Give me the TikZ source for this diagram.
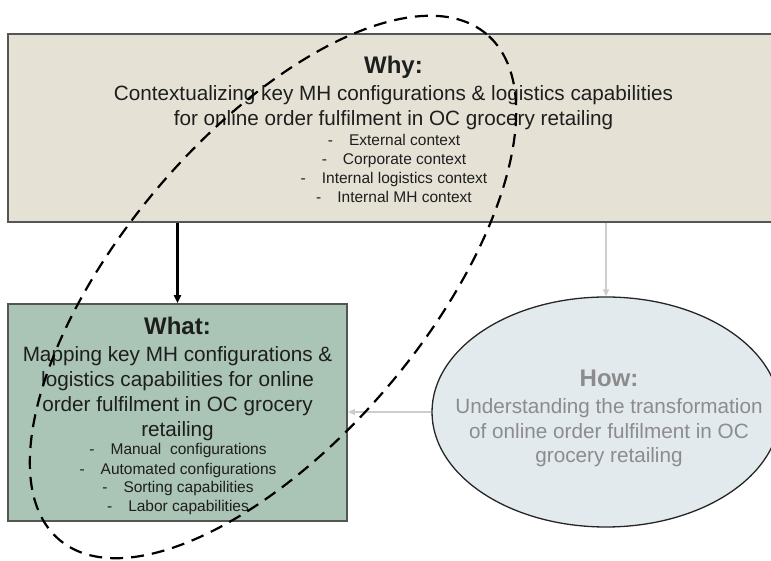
\documentclass[tikz,border=0pt]{standalone}
\usepackage{fontspec}
\setmainfont{Liberation Sans}
\usetikzlibrary{arrows.meta,shapes.geometric}
\definecolor{whyfill}{RGB}{229,226,213}
\definecolor{whatfill}{RGB}{170,196,181}
\definecolor{howfill}{RGB}{226,234,237}
\definecolor{boxline}{RGB}{85,85,85}
\definecolor{howtext}{RGB}{140,140,140}
\definecolor{lightarrow}{RGB}{205,205,205}
\definecolor{darktext}{RGB}{30,30,30}
\begin{document}
\begin{tikzpicture}[x=1pt,y=1pt,
  box/.style={draw=boxline, line width=1.8pt, inner sep=0pt},
  txt/.style={anchor=base, inner sep=0pt, font=\fontsize{20.7}{24}\selectfont, text=darktext},
  head/.style={anchor=base, inner sep=0pt, font=\bfseries\fontsize{24}{28}\selectfont, text=darktext},
  bul/.style={anchor=base, inner sep=0pt, font=\fontsize{15.5}{18}\selectfont, text=darktext},
  mainarrow/.style={-{Triangle[length=8pt,width=7pt]}, line width=2.4pt, black},
  greyarrow/.style={-{Triangle[length=7pt,width=6pt]}, line width=1.3pt, lightarrow},
  focusline/.style={draw=black, line width=2.2pt, dash pattern=on 13pt off 8pt}
]
\useasboundingbox (0,0) rectangle (771,561);
\fill[white] (0,0) rectangle (771,561);

% Why box
\node[box, fill=whyfill, minimum width=771pt, minimum height=188pt] (why) at (393.5,433) {};
\node[head] (whyh) at (393.5,487) {Why:};
\node[txt] (why1) at (393.5,460.3) {Contextualizing key MH configurations \& logistics capabilities};
\node[txt] (why2) at (393.5,435.3) {for online order fulfilment in OC grocery retailing};
\node[bul] (whyb1) at (394,415.3) {-\hspace{16pt}External context};
\node[bul] (whyb2) at (394,396.3) {-\hspace{16pt}Corporate context};
\node[bul] (whyb3) at (394,377.7) {-\hspace{16pt}Internal logistics context};
\node[bul] (whyb4) at (394,358.7) {-\hspace{16pt}Internal MH context};

% What box
\node[box, fill=whatfill, minimum width=339pt, minimum height=217pt] (what) at (177.5,148.5) {};
\node[head] (whath) at (177.5,226) {What:};
\node[txt] (what1) at (177.5,199.3) {Mapping key MH configurations \&};
\node[txt] (what2) at (177.5,174.3) {logistics capabilities for online};
\node[txt] (what3) at (177.5,149.3) {order fulfilment in OC grocery};
\node[txt] (what4) at (177.5,124.3) {retailing};
\node[bul] (whatb1) at (178,106) {-\hspace{16pt}Manual\ \ configurations};
\node[bul] (whatb2) at (178,86.7) {-\hspace{16pt}Automated configurations};
\node[bul] (whatb3) at (178,68.3) {-\hspace{16pt}Sorting capabilities};
\node[bul] (whatb4) at (178,49.3) {-\hspace{16pt}Labor capabilities};

% How ellipse
\node[ellipse, draw=black!85, line width=1.3pt, fill=howfill, minimum width=348pt, minimum height=230pt, inner sep=0pt] (how) at (606,149) {};
\node[head, text=howtext] (howh) at (609,174.3) {How:};
\node[txt, text=howtext] (how1) at (609,147.7) {Understanding the transformation};
\node[txt, text=howtext] (how2) at (609,122.7) {of online order fulfilment in OC};
\node[txt, text=howtext] (how3) at (609,98.7) {grocery retailing};

% connectors
\draw[mainarrow] (why.south -| what.north) -- (what.north);
\draw[greyarrow] (why.south -| how.north) -- (how.north);
\draw[greyarrow] (how.west) -- (how.west -| what.east);

% dashed focus ellipse
\draw[focusline, rotate around={49.8:(273,274)}] (273,274) ellipse [x radius=331pt, y radius=152pt];
\end{tikzpicture}
\end{document}
